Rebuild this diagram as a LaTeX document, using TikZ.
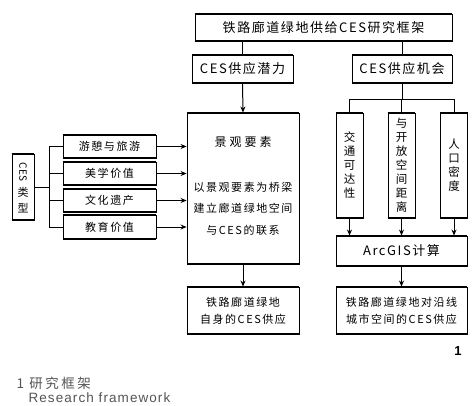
\documentclass[tikz,border=0pt]{standalone}
\usepackage{fontspec}
\usepackage{graphicx}
\setmainfont{Noto Sans CJK SC}
\newfontfamily\capfont{Liberation Sans}
\usetikzlibrary{arrows.meta}
\definecolor{capgray}{HTML}{555555}
\begin{document}
\begin{tikzpicture}[x=1pt,y=-1pt,
  box/.style={draw, line width=0.9pt, inner sep=0pt, align=center},
  big/.style={font=\fontsize{13}{15}\selectfont\addfontfeature{LetterSpace=12}},
  mid/.style={font=\fontsize{11}{17}\selectfont\addfontfeature{LetterSpace=14}},
  vt/.style={font=\fontsize{11.5}{14}\selectfont},
  conn/.style={line width=1pt},
  arr/.style={conn, -{Stealth[length=6pt,width=5pt]}}]
\fill[white] (0,0) rectangle (473,406);
\useasboundingbox (0,0) rectangle (473,406);

% top level
\node[box,big,minimum width=257pt,minimum height=27pt] (top) at (323.5,27.5) {铁路廊道绿地供给CES研究框架};
\node[box,big,minimum width=101pt,minimum height=28pt] (pot) at (242.5,69) {CES供应潜力};
\node[box,big,minimum width=100pt,minimum height=28pt] (opp) at (402,69) {CES供应机会};

% landscape box
\node[box,minimum width=112pt,minimum height=151pt] (land) at (243,188.5) {};
\node[font=\fontsize{12}{14}\selectfont\addfontfeature{LetterSpace=25}] (lt) at (243,142) {景观要素};
\node[mid] (l1) at (243,187) {以景观要素为桥梁};
\node[mid] (l2) at (243,208) {建立廊道绿地空间};
\node[mid] (l3) at (243,230) {与CES的联系};

% vertical boxes
\node[box,vt,text width=27pt,minimum height=105pt] (v1) at (349.5,165.5) {交\\通\\可\\达\\性};
\node[box,vt,text width=27pt,minimum height=105pt] (v2) at (401.5,165.5) {与\\开\\放\\空\\间\\距\\离};
\node[box,vt,text width=27pt,minimum height=105pt] (v3) at (454,165.5) {人\\口\\密\\度};
\node[box,big,minimum width=131pt,minimum height=30pt] (arc) at (401.5,251) {ArcGIS计算};

% bottom boxes
\node[box,mid,minimum width=112pt,minimum height=47pt] (bl) at (243,310.5) {铁路廊道绿地\\自身的CES供应};
\node[box,mid,minimum width=131pt,minimum height=47pt] (br) at (401.5,310.5) {铁路廊道绿地对沿线\\城市空间的CES供应};

% CES types
\node[box,minimum width=22pt,minimum height=66pt] (ces) at (23,187) {};
\node[rotate=-90,font=\fontsize{10}{10}\selectfont,inner sep=0pt] (ct1) at (23,172) {CES};
\node[font=\fontsize{11}{11}\selectfont,inner sep=0pt] (ct2) at (23,192) {类};
\node[font=\fontsize{11}{11}\selectfont,inner sep=0pt] (ct3) at (23,208) {型};
\node[box,mid,minimum width=93pt,minimum height=23pt] (s1) at (109.5,146.5) {游憩与旅游};
\node[box,mid,minimum width=93pt,minimum height=23pt] (s2) at (109.5,173.5) {美学价值};
\node[box,mid,minimum width=93pt,minimum height=23pt] (s3) at (109.5,200.5) {文化遗产};
\node[box,mid,minimum width=93pt,minimum height=23pt] (s4) at (109.5,227) {教育价值};

% thick top/bottom edges
\foreach \n in {top,pot,opp,land,v1,v2,v3,arc,bl,br,ces,s1,s2,s3,s4}
  \draw[line width=2pt] (\n.north west) -- (\n.north east) (\n.south west) -- (\n.south east);

% connectors
\coordinate (bus) at (49,187);
\draw[conn] (ces.east) -- (bus);
\foreach \s in {s1,s2,s3,s4} {
  \draw[conn] (\s.west) -| (bus);
  \draw[arr] (\s.east) -- (\s.east -| land.west);
}
\draw[conn] (top.south -| pot.north) -- (pot.north);
\draw[conn] (top.south -| opp.north) -- (opp.north);
\draw[arr] (pot.south) -- (land.north);
\coordinate (bar) at (402,100);
\draw[conn] (opp.south) -- (bar);
\foreach \v in {v1,v2,v3} {
  \draw[conn] (\v.north) |- (bar);
  \draw[arr] (\v.south) -- (\v.south |- arc.north);
}
\draw[arr] (land.south) -- (bl.north);
\draw[arr] (arc.south) -- (br.north);

% captions
\node[anchor=base, font=\capfont\bfseries\fontsize{13}{13}\selectfont] (num) at (458,355) {1};
\node[anchor=base west, text=capgray, font=\fontsize{13.5}{14}\selectfont\addfontfeature{LetterSpace=18}] (cap1) at (13,388) {1 研究框架};
\node[anchor=base west, text=capgray, font=\capfont\fontsize{13.5}{14}\selectfont\addfontfeature{LetterSpace=8}] (cap2) at (25,402) {Research framework};
\end{tikzpicture}
\end{document}
